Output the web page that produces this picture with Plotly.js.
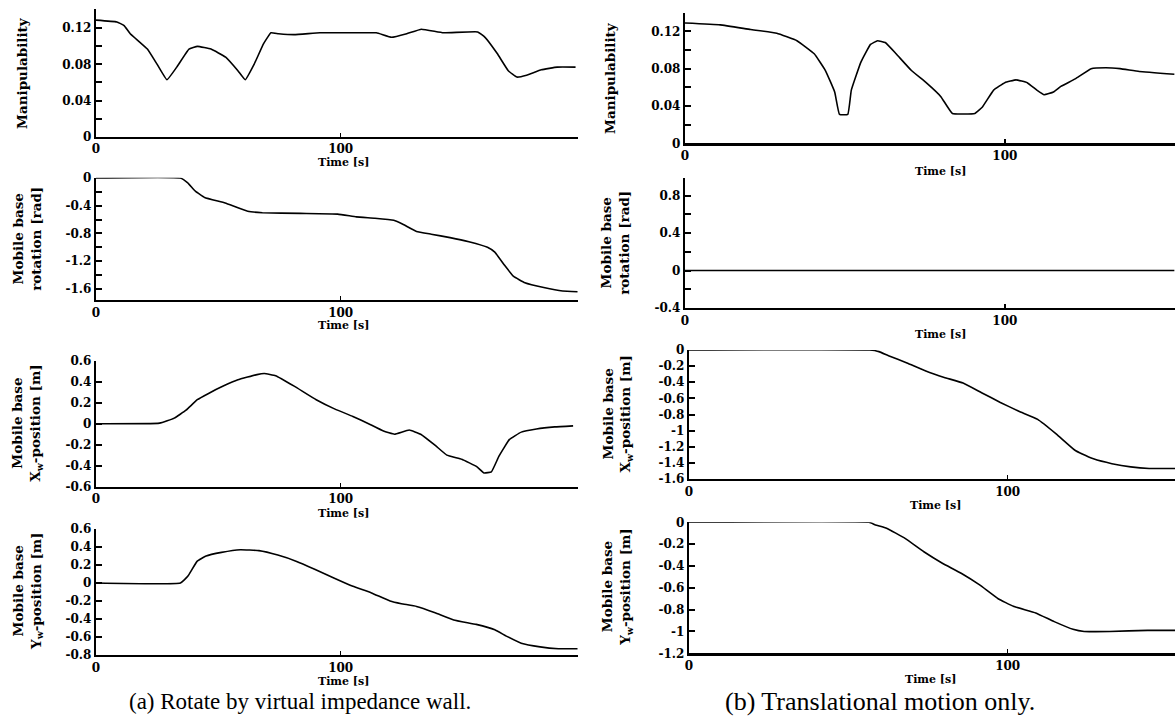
<!DOCTYPE html>
<html>
<head>
<meta charset="utf-8">
<script src="https://cdn.plot.ly/plotly-3.0.1.min.js"></script>
<style>html,body{margin:0;padding:0;background:#fff;}#chart{width:1175px;height:723px;}</style>
</head>
<body>
<div id="chart"></div>
<script>
// ---------- data (time [s], values) ----------
const manipA_t = [0,8.5,11.5,14,21,25,29,33,38,41.5,47,53,58,61,64.6,68.5,71.5,74.6,81,91.5,107,114.6,120.8,127,133,142,156,159,164,168.5,172,176,182,188.5,196];
const manipA_v = [0.129,0.127,0.123,0.114,0.097,0.080,0.063,0.077,0.097,0.100,0.097,0.088,0.073,0.063,0.080,0.103,0.115,0.114,0.113,0.115,0.115,0.115,0.110,0.114,0.119,0.115,0.116,0.110,0.092,0.073,0.066,0.068,0.074,0.077,0.077];
const manipB_t = [0,11,20.5,28.7,35,40.4,43.9,46.8,48.3,50.9,52,55,58,60.2,62.6,66,70.8,75.4,80,83.6,90.6,93,96.5,100,103.5,107,110,112.3,115.2,117.5,122,127,131.6,136,142,153];
const manipB_v = [0.129,0.127,0.122,0.118,0.110,0.096,0.078,0.055,0.031,0.031,0.057,0.087,0.106,0.110,0.108,0.096,0.078,0.065,0.050,0.032,0.032,0.039,0.057,0.065,0.068,0.065,0.057,0.052,0.055,0.061,0.069,0.080,0.081,0.080,0.077,0.074];
const rotA_t = [0,34.5,37.5,40.6,44.4,52.8,62,68,83.5,98.8,106.4,114,121.7,125.6,131,137,144.7,152.4,160,163,167,170.7,175.3,183,190.7,196.8];
const rotA_v = [0,0,-0.07,-0.19,-0.28,-0.36,-0.48,-0.50,-0.51,-0.52,-0.56,-0.58,-0.61,-0.67,-0.77,-0.81,-0.86,-0.92,-1.00,-1.07,-1.26,-1.42,-1.51,-1.58,-1.63,-1.64];
const rotB_t = [0,153];
const rotB_v = [0,0];
const xposA_t = [0,26,32,36.8,41.4,46,52,58,65.8,68.8,73.4,81,90,97.7,105,111.4,117.5,122,128,132.7,138.8,143.4,149.5,155.6,158.6,161.6,164.7,169,173.8,180,187.5,195];
const xposA_v = [0,0.006,0.054,0.13,0.23,0.29,0.36,0.42,0.47,0.48,0.46,0.36,0.23,0.14,0.07,0,-0.07,-0.10,-0.06,-0.10,-0.21,-0.30,-0.34,-0.41,-0.47,-0.46,-0.31,-0.15,-0.08,-0.05,-0.03,-0.02];
const xposB_t = [0,56.7,59.6,62.6,68.4,74.3,80.1,86,91.8,97.7,103.5,109.4,115.2,121,123.4,126.9,132.7,138.6,144.4,153];
const xposB_v = [0,0,-0.02,-0.07,-0.16,-0.26,-0.34,-0.41,-0.53,-0.65,-0.76,-0.86,-1.04,-1.24,-1.29,-1.35,-1.41,-1.45,-1.47,-1.47];
const yposA_t = [0,34.5,37.5,41.3,45,51.3,59,66.6,74.3,82,89.6,97.2,105,112.6,120.2,124.8,131,138.6,146.2,155.4,163,167.7,173.8,181.5,189,196.8];
const yposA_v = [0,0,0.074,0.24,0.30,0.34,0.37,0.36,0.31,0.24,0.15,0.056,-0.037,-0.11,-0.20,-0.23,-0.26,-0.33,-0.41,-0.46,-0.52,-0.59,-0.67,-0.71,-0.73,-0.73];
const yposB_t = [0,56.5,58.5,62,67.8,73.7,79.5,85.4,91.2,97,101.8,108.8,114.6,120.5,124,132,143.9,153];
const yposB_v = [0,0,-0.024,-0.055,-0.147,-0.27,-0.375,-0.467,-0.574,-0.70,-0.77,-0.83,-0.91,-0.98,-1.0,-1.0,-0.99,-0.99];

// ---------- tick labels ----------
const xTickVals = [0,100];
const xTickText = ['0','100'];
const manipTickVals = [0,0.04,0.08,0.12];
const manipTickText = ['0','0.04','0.08','0.12'];
const rotATickVals = [0,-0.4,-0.8,-1.2,-1.6];
const rotATickText = ['0','-0.4','-0.8','-1.2','-1.6'];
const rotBTickVals = [0.8,0.4,0,-0.4];
const rotBTickText = ['0.8','0.4','0','-0.4'];
const xposATickVals = [0.6,0.4,0.2,0,-0.2,-0.4,-0.6];
const xposATickText = ['0.6','0.4','0.2','0','-0.2','-0.4','-0.6'];
const xposBTickVals = [0,-0.2,-0.4,-0.6,-0.8,-1,-1.2,-1.4,-1.6];
const xposBTickText = ['0','-0.2','-0.4','-0.6','-0.8','-1','-1.2','-1.4','-1.6'];
const yposATickVals = [0.6,0.4,0.2,0,-0.2,-0.4,-0.6,-0.8];
const yposATickText = ['0.6','0.4','0.2','0','-0.2','-0.4','-0.6','-0.8'];
const yposBTickVals = [0,-0.2,-0.4,-0.6,-0.8,-1,-1.2];
const yposBTickText = ['0','-0.2','-0.4','-0.6','-0.8','-1','-1.2'];

const yTitles = {
  manip: 'Manipulability',
  rot: 'Mobile base<br>rotation [rad]',
  xpos: 'Mobile base<br>X<sub>w</sub>-position [m]',
  ypos: 'Mobile base<br>Y<sub>w</sub>-position [m]'
};
const xTitle = 'Time [s]';
const captionA = '(a) Rotate by virtual impedance wall.';
const captionB = '(b) Translational motion only.';

// ---------- layout geometry (pixels) ----------
const W = 1175, H = 723;
const px = x => x / W;
const py = y => 1 - y / H;

const panels = [
  {t: manipA_t, v: manipA_v, x0: 96, x1: 578, y0: 9.3, y1: 136.7, xr: [0,197], yr: [0,0.141], tv: manipTickVals, tt: manipTickText, minor: 0.02, title: yTitles.manip, tx: 22, timeY: 162, timeX: 343},
  {t: manipB_t, v: manipB_v, x0: 685, x1: 1175, y0: 12.7, y1: 143.3, xr: [0,153.2], yr: [0,0.14], tv: manipTickVals, tt: manipTickText, minor: 0.02, title: yTitles.manip, tx: 610, timeY: 171, timeX: 940},
  {t: rotA_t, v: rotA_v, x0: 96, x1: 578, y0: 177.7, y1: 300, xr: [0,197], yr: [-1.76,0.005], tv: rotATickVals, tt: rotATickText, minor: 0.2, title: yTitles.rot, tx: 27, timeY: 326, timeX: 343},
  {t: rotB_t, v: rotB_v, x0: 685, x1: 1175, y0: 177.7, y1: 308, xr: [0,153.2], yr: [-0.4,0.99], tv: rotBTickVals, tt: rotBTickText, minor: 0.2, title: yTitles.rot, tx: 615, timeY: 334, timeX: 940},
  {t: xposA_t, v: xposA_v, x0: 96, x1: 578, y0: 361, y1: 486.5, xr: [0,197], yr: [-0.6,0.6], tv: xposATickVals, tt: xposATickText, minor: null, title: yTitles.xpos, tx: 27, timeY: 513, timeX: 343},
  {t: xposB_t, v: xposB_v, x0: 689, x1: 1175, y0: 350, y1: 479, xr: [0,152.5], yr: [-1.6,0], tv: xposBTickVals, tt: xposBTickText, minor: null, title: yTitles.xpos, tx: 617, timeY: 506, timeX: 935},
  {t: yposA_t, v: yposA_v, x0: 96, x1: 578, y0: 529, y1: 655, xr: [0,197], yr: [-0.8,0.6], tv: yposATickVals, tt: yposATickText, minor: null, title: yTitles.ypos, tx: 27, timeY: 681, timeX: 343},
  {t: yposB_t, v: yposB_v, x0: 689, x1: 1175, y0: 522.3, y1: 653.3, xr: [0,152.5], yr: [-1.2,0], tv: yposBTickVals, tt: yposBTickText, minor: null, title: yTitles.ypos, tx: 617, timeY: 679, timeX: 930}
];

const serif = '"DejaVu Serif", "Liberation Serif", serif';
const tickFont = {family: serif, size: 12, color: '#000', weight: 'bold'};
const titleFont = {family: serif, size: 13.5, color: '#000', weight: 'bold'};

const traces = [];
const layout = {
  width: W, height: H,
  margin: {l: 0, r: 0, t: 0, b: 0},
  paper_bgcolor: '#fff', plot_bgcolor: '#fff',
  showlegend: false,
  annotations: [],
  font: {family: serif, color: '#000'}
};

panels.forEach((p, i) => {
  const n = i === 0 ? '' : String(i + 1);
  traces.push({
    type: 'scatter', mode: 'lines',
    x: p.t, y: p.v,
    xaxis: 'x' + n, yaxis: 'y' + n,
    line: {color: '#000', width: 1.6, shape: 'spline', smoothing: 0.3},
    hoverinfo: 'skip'
  });
  layout['xaxis' + n] = {
    domain: [px(p.x0), px(p.x1)],
    anchor: 'y' + n,
    range: p.xr,
    tickmode: 'array', tickvals: xTickVals, ticktext: xTickText,
    ticks: 'inside', ticklen: 4, tickwidth: 1.5, tickcolor: '#000',
    showline: true, linewidth: 2.2, linecolor: '#000',
    showgrid: false, zeroline: false,
    tickfont: tickFont, fixedrange: true
  };
  const ya = {
    domain: [py(p.y1), py(p.y0)],
    anchor: 'x' + n,
    range: p.yr,
    tickmode: 'array', tickvals: p.tv, ticktext: p.tt,
    ticks: 'inside', ticklen: 6, tickwidth: 2, tickcolor: '#000',
    showline: true, linewidth: 2.2, linecolor: '#000',
    showgrid: false, zeroline: false,
    tickfont: tickFont, fixedrange: true
  };
  if (p.minor) {
    ya.minor = {dtick: p.minor, tick0: 0, ticks: 'inside', ticklen: 6, tickwidth: 2, tickcolor: '#000', showgrid: false};
  }
  layout['yaxis' + n] = ya;
  layout.annotations.push({
    xref: 'paper', yref: 'paper',
    x: px(p.tx), y: py((p.y0 + p.y1) / 2),
    text: p.title, textangle: -90, showarrow: false,
    xanchor: 'center', yanchor: 'middle',
    font: titleFont
  });
  layout.annotations.push({
    xref: 'paper', yref: 'paper',
    x: px(p.timeX), y: py(p.timeY),
    text: xTitle, showarrow: false,
    xanchor: 'center', yanchor: 'middle',
    font: {family: serif, size: 11, color: '#000', weight: 'bold'}
  });
});

layout.annotations.push({
  xref: 'paper', yref: 'paper', x: px(300), y: py(701),
  text: captionA, showarrow: false, xanchor: 'center', yanchor: 'middle',
  font: {family: '"Liberation Serif", "Times New Roman", serif', size: 23, color: '#000'}
});
layout.annotations.push({
  xref: 'paper', yref: 'paper', x: px(880), y: py(701),
  text: captionB, showarrow: false, xanchor: 'center', yanchor: 'middle',
  font: {family: '"Liberation Serif", "Times New Roman", serif', size: 26, color: '#000'}
});

Plotly.newPlot('chart', traces, layout, {staticPlot: true, displayModeBar: false});
</script>
</body>
</html>
